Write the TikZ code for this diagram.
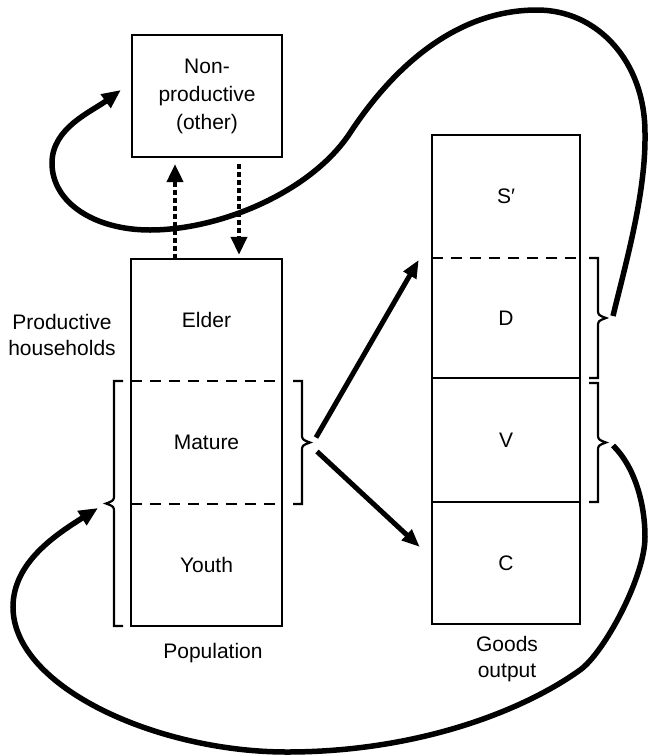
\documentclass[tikz,border=0pt]{standalone}
\usepackage{fontspec}
\setmainfont{Liberation Sans}
\usetikzlibrary{arrows.meta,calc}
\tikzset{
  seg/.style={draw=none, inner sep=0pt, align=center, font=\fontsize{21}{28}\selectfont},
  box/.style={line width=2.2pt},
  divdash/.style={line width=2.4pt, dash pattern=on 11pt off 8pt},
  brk/.style={line width=2.2pt, line join=miter},
  lbl/.style={align=center, inner sep=0pt, font=\fontsize{21}{26.5}\selectfont},
  bigarrow/.style={line width=5pt, -{Triangle[length=18pt,width=14pt]}},
  bigcurve/.style={line width=5.5pt, line cap=butt, -{Triangle[length=19pt,width=16pt]}},
  dotarrow/.style={line width=4pt, dash pattern=on 5pt off 3pt, -{Triangle[length=18pt,width=16pt]}},
}
\newcommand{\mybrace}[4]{% x, ytop, ybottom, direction
  \draw[brk] ({#1-9*#4},#2) -- (#1,#2) -- (#1,{(#2+#3)/2-9})
    .. controls (#1,{(#2+#3)/2-3}) .. ({#1+8*#4},{(#2+#3)/2})
    .. controls (#1,{(#2+#3)/2+3}) .. (#1,{(#2+#3)/2+9}) -- (#1,#3) -- ({#1-9*#4},#3);}
\begin{document}
\begin{tikzpicture}[x=1pt,y=-1pt]
\useasboundingbox (0,0) rectangle (648,756);

% Non-productive box
\node[seg, draw, box, minimum width=150pt, minimum height=122pt] (np) at (207,96) {Non-\\productive\\(other)};

% Population column
\node[seg, minimum width=151pt, minimum height=122pt] (elder) at (206.5,320) {Elder};
\node[seg, minimum width=151pt, minimum height=123pt] (mature) at (206.5,442.5) {Mature};
\node[seg, minimum width=151pt, minimum height=122pt] (youth) at (206.5,565) {Youth};
\draw[box] (elder.north west) rectangle (youth.south east);
\draw[divdash] (elder.south west) -- (elder.south east);
\draw[divdash] (mature.south west) -- (mature.south east);

% Goods column
\node[seg, minimum width=148pt, minimum height=123pt] (sp) at (506,196.5) {S′};
\node[seg, minimum width=148pt, minimum height=120pt] (d) at (506,318) {D};
\node[seg, minimum width=148pt, minimum height=124pt] (v) at (506,440) {V};
\node[seg, minimum width=148pt, minimum height=122pt] (c) at (506,563) {C};
\draw[box] (sp.north west) rectangle (c.south east);
\draw[divdash] (sp.south west) -- (sp.south east);
\draw[box] (d.south west) -- (d.south east);
\draw[box] (v.south west) -- (v.south east);

% Labels
\node[lbl] (prodlbl) at (62,335) {Productive\\households};
\node[lbl] (poplbl) at (213,653) {Population};
\node[lbl] (goodslbl) at (507,659) {Goods\\output};

% Brackets
\mybrace{114}{381}{626}{-1}
\mybrace{302}{381}{504}{1}
\mybrace{598}{258}{378}{1}
\mybrace{598}{383}{502}{1}
\coordinate (workbr) at (106,503.5);
\coordinate (matbr) at (310,442.5);
\coordinate (dbr) at (606,318);
\coordinate (vbr) at (606,442.5);

% Dotted exchange arrows
\draw[dotarrow] ([shift={(-31.5,0)}]elder.north) -- ([shift={(-32,6)}]np.south);
\draw[dotarrow] ([shift={(32,6)}]np.south) -- ([shift={(32.5,-4)}]elder.north);

% Mature output arrows
\draw[bigarrow] ([shift={(6,-5)}]matbr) -- ([shift={(-13,2)}]d.north west);
\draw[bigarrow] ([shift={(7,9)}]matbr) -- ([shift={(-12,-16)}]c.west);

% D loop to non-productive
\draw[bigcurve] ([shift={(7,-2)}]dbr)
  .. controls (626,262) and (646,193) .. (645,133)
  .. controls (645,62) and (598,10) .. (537,10)
  .. controls (457,10) and (394,66) .. (350,133)
  .. controls (311,192) and (220,230) .. (150,230)
  .. controls (95,230) and (52,203) .. (52,163)
  .. controls (52,128) and (91,112) .. ([shift={(-10,-6)}]np.west);

% V loop to working population
\draw[bigcurve] ([shift={(7,3)}]vbr)
  .. controls (634,466) and (645,502) .. (645,537)
  .. controls (645,577) and (604,653) .. (580,670)
  .. controls (523,711) and (417,752) .. (287,752)
  .. controls (157,752) and (13,687) .. (13,607)
  .. controls (13,562) and (57,534) .. ([shift={(-8,4.5)}]workbr);
\end{tikzpicture}
\end{document}
